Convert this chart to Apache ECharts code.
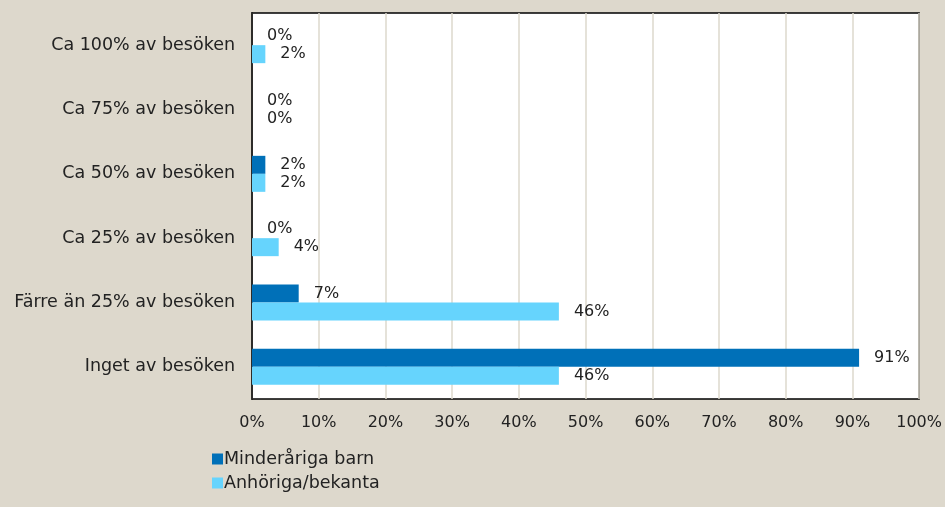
<!DOCTYPE html>
<html>
<head>
<meta charset="utf-8">
<script src="https://cdn.jsdelivr.net/npm/echarts@6/dist/echarts.min.js"></script>
<style>
  html, body { margin: 0; padding: 0; background: #ddd8cc; }
  #chart { width: 945px; height: 507px; }
</style>
</head>
<body>
<div id="chart"></div>
<script>
// kategorier uppifrån och ned
var categories = ['Ca 100% av besöken', 'Ca 75% av besöken', 'Ca 50% av besöken',
                  'Ca 25% av besöken', 'Färre än 25% av besöken', 'Inget av besöken'];
var seriesNames = ['Minderåriga barn', 'Anhöriga/bekanta'];
var barnValues = [0, 0, 2, 0, 7, 91];
var anhorigaValues = [2, 0, 2, 4, 46, 46];
var xTicks = [0, 10, 20, 30, 40, 50, 60, 70, 80, 90, 100];

var font = 'DejaVu Sans';
var chart = echarts.init(document.getElementById('chart'));

function barSeries(name, data, color) {
    return {
        name: name,
        type: 'bar',
        data: data,
        barWidth: 18,
        barGap: '0%',
        itemStyle: { color: color },
        label: {
            show: true,
            position: 'right',
            distance: 15,
            formatter: '{c}%',
            color: '#222',
            fontFamily: font,
            fontSize: 16
        }
    };
}

chart.setOption({
    backgroundColor: '#ddd8cc',
    animation: false,
    grid: {
        left: 252, top: 13, width: 668, height: 386,
        show: true, backgroundColor: '#fff', borderColor: '#000', borderWidth: 1.5
    },
    legend: {
        orient: 'vertical',
        left: 207, top: 445,
        itemWidth: 11, itemHeight: 11, itemGap: 6,
        icon: 'rect',
        textStyle: { fontFamily: font, fontSize: 17.5, color: '#222', padding: [0, 0, 0, -4] },
        data: seriesNames
    },
    xAxis: {
        type: 'value',
        min: 0, max: 100, interval: 10,
        axisLine: { show: false },
        axisTick: { show: false },
        splitLine: { lineStyle: { color: '#ddd8cc', width: 1.5 } },
        axisLabel: {
            margin: 16,
            fontFamily: font, fontSize: 16, color: '#222',
            formatter: function (v) { return xTicks.indexOf(v) >= 0 ? v + '%' : ''; }
        }
    },
    yAxis: {
        type: 'category',
        inverse: true,
        data: categories,
        axisLine: { lineStyle: { color: '#000', width: 1.5 } },
        axisTick: { inside: true, length: 5, lineStyle: { color: '#000' } },
        axisLabel: { margin: 17, fontFamily: font, fontSize: 17.5, color: '#222' }
    },
    series: [
        barSeries(seriesNames[0], barnValues, '#0070b8'),
        barSeries(seriesNames[1], anhorigaValues, '#66d4fd')
    ]
});
</script>
</body>
</html>
